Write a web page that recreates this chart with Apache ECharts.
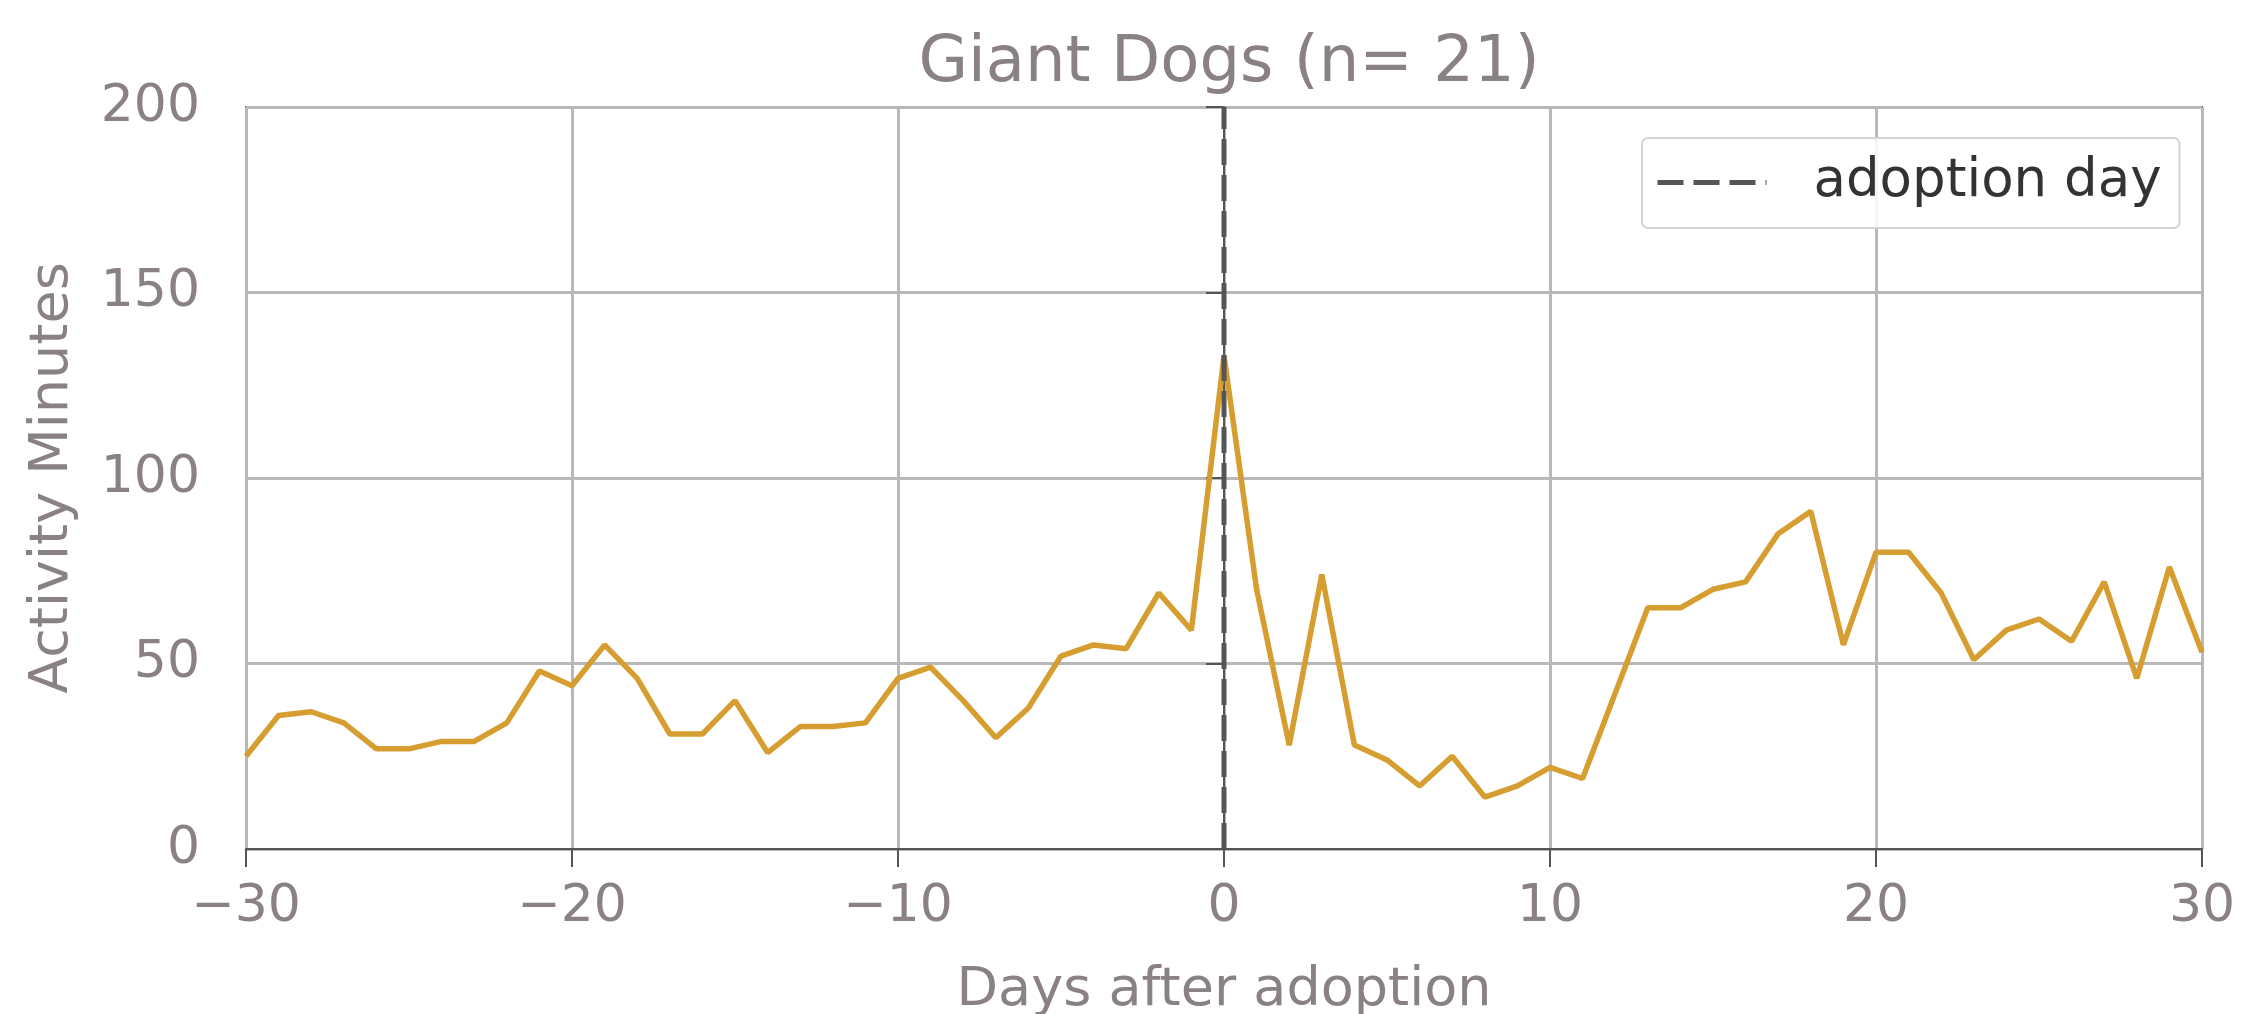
<!DOCTYPE html>
<html>
<head>
<meta charset="utf-8">
<script src="https://cdn.jsdelivr.net/npm/echarts@6/dist/echarts.min.js"></script>
<style>
html,body{margin:0;padding:0;background:#ffffff;}
#chart{width:2242px;height:1014px;}
</style>
</head>
<body>
<div id="chart"></div>
<script>
// ---- data ----
const days = [-30,-29,-28,-27,-26,-25,-24,-23,-22,-21,-20,-19,-18,-17,-16,-15,-14,-13,-12,-11,
              -10,-9,-8,-7,-6,-5,-4,-3,-2,-1,0,1,2,3,4,5,6,7,8,9,10,11,12,13,14,15,16,17,18,19,
              20,21,22,23,24,25,26,27,28,29,30];
const activityMinutes = [25,36,37,34,27,27,29,29,34,48,44,55,46,31,31,40,26,33,33,34,
                         46,49,40,30,38,52,55,54,69,59,133,70,28,74,28,24,17,25,14,17,
                         22,19,42,65,65,70,72,85,91,55,80,80,69,51,59,62,56,72,46,76,53];
const adoptionDay = 0;
const xTicks = [-30,-20,-10,0,10,20,30];
const yTicks = [0,50,100,150,200];
const titleText = 'Giant Dogs (n= 21)';
const xName = 'Days after adoption';
const yName = 'Activity Minutes';
const legendName = 'adoption day';

const F = "'DejaVu Sans', 'Noto Sans', sans-serif";
const textGray = '#8a8282';
const spine = '#555555';
const dashStyle = {color: '#555555', width: 5, type: [26, 10]};

const chart = echarts.init(document.getElementById('chart'), null, {renderer:'canvas'});
const lineData = days.map((d, i) => [d, activityMinutes[i]]);
const yMin = yTicks[0], yMax = yTicks[yTicks.length - 1];
const fmt = v => (v < 0 ? '\u2212' + Math.abs(v) : String(v));

const option = {
  backgroundColor: '#ffffff',
  animation: false,
  title: {
    text: titleText,
    left: 1224,
    top: 27,
    textAlign: 'center',
    textStyle: {fontFamily: F, fontSize: 64, fontWeight: 'normal', color: textGray}
  },
  legend: {
    data: [{name: legendName, itemStyle: {opacity: 0}}],
    left: 1642,
    top: 138,
    padding: [18, 18, 19, 13],
    itemWidth: 109,
    itemHeight: 20,
    itemStyle: {opacity: 0},
    lineStyle: dashStyle,
    backgroundColor: 'rgba(255,255,255,0.85)',
    borderColor: '#d4d4d4',
    borderWidth: 2,
    borderRadius: 6,
    textStyle: {fontFamily: F, fontSize: 53, color: '#333333', padding: [0, 0, 0, 42]}
  },
  grid: {
    left: 246, right: 40, top: 107, bottom: 165,
    containLabel: false,
    outerBoundsMode: 'none',
    show: true, borderColor: spine, borderWidth: 2, backgroundColor: 'transparent'
  },
  xAxis: {
    type: 'value',
    min: xTicks[0], max: xTicks[xTicks.length - 1], interval: 10,
    name: xName, nameLocation: 'middle', nameGap: 115,
    nameTextStyle: {fontFamily: F, fontSize: 54, color: textGray},
    axisLine: {show: true, onZero: false, lineStyle: {color: spine, width: 2}},
    axisTick: {show: true, length: 18, lineStyle: {color: spine, width: 2}},
    axisLabel: {margin: 32, fontFamily: F, fontSize: 52, color: textGray, formatter: fmt},
    splitLine: {show: true, lineStyle: {color: '#b8b8b8', width: 3}}
  },
  yAxis: {
    type: 'value',
    min: yMin, max: yMax, interval: 50,
    name: yName, nameLocation: 'middle', nameGap: 166,
    nameTextStyle: {fontFamily: F, fontSize: 54, color: textGray},
    axisLine: {show: true, lineStyle: {color: spine, width: 2}},
    axisTick: {show: true, length: 18, lineStyle: {color: spine, width: 2}},
    axisLabel: {margin: 46, fontFamily: F, fontSize: 52, color: textGray, formatter: fmt},
    splitLine: {show: true, lineStyle: {color: '#b8b8b8', width: 3}}
  },
  series: [
    {
      name: 'activity',
      type: 'line',
      data: lineData,
      symbol: 'none',
      showSymbol: false,
      lineStyle: {color: '#d69e30', width: 5.5},
      z: 2
    },
    {
      name: legendName,
      type: 'line',
      data: [[adoptionDay, yMin], [adoptionDay, yMax]],
      symbol: 'none',
      showSymbol: false,
      itemStyle: {color: '#555555'},
      lineStyle: dashStyle,
      z: 3
    }
  ]
};
chart.setOption(option);
</script>
</body>
</html>
